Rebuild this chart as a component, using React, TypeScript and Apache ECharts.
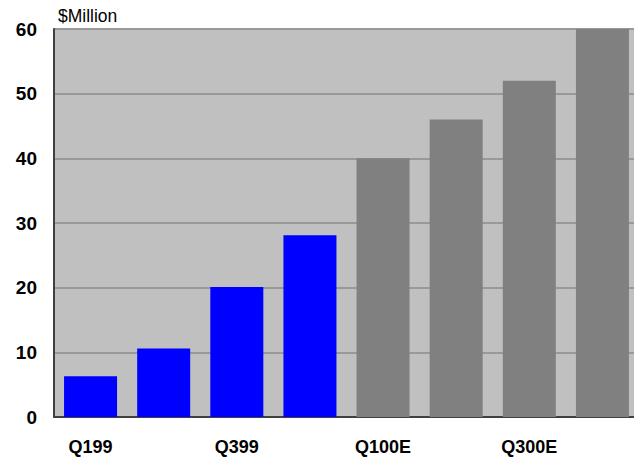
import React, { useEffect, useRef } from "react";
import * as echarts from "echarts";

const categories = ["Q199", "Q299", "Q399", "Q499", "Q100E", "Q200E", "Q300E", "Q400E"];
const actualValues = [6.3, 10.6, 20.1, 28.1];
const estimateValues = [40, 46, 52, 60];
const unitLabel = "$Million";

export default function App() {
  const ref = useRef<HTMLDivElement>(null);
  useEffect(() => {
    if (!ref.current) return;
    const chart = echarts.init(ref.current, null, { renderer: "svg" });
    const data = [
      ...actualValues.map((v) => ({ value: v, itemStyle: { color: "#0000ff" } })),
      ...estimateValues.map((v) => ({ value: v, itemStyle: { color: "#808080" } })),
    ];
    chart.setOption({
      animation: false,
      backgroundColor: "#ffffff",
      grid: {
        left: 54,
        width: 585,
        top: 29,
        bottom: 40,
        show: true,
        backgroundColor: "#c0c0c0",
        borderWidth: 0,
        outerBoundsMode: "none",
        containLabel: false,
      },
      xAxis: {
        type: "category",
        data: categories,
        axisLine: { show: true, lineStyle: { color: "#404040", width: 2 } },
        axisTick: { show: false },
        axisLabel: {
          interval: 1,
          margin: 21,
          fontFamily: "Liberation Sans, Arial, sans-serif",
          fontWeight: "bold",
          fontSize: 18,
          lineHeight: 18,
          color: "#000",
        },
      },
      yAxis: {
        type: "value",
        min: 0,
        max: 60,
        interval: 10,
        axisLine: { show: true, lineStyle: { color: "#404040", width: 2 } },
        axisTick: { show: false },
        splitLine: { show: true, lineStyle: { color: "#999999", width: 2 } },
        axisLabel: {
          margin: 17,
          fontFamily: "Liberation Sans, Arial, sans-serif",
          fontWeight: "bold",
          fontSize: 19,
          color: "#000",
        },
      },
      graphic: [
        {
          type: "text",
          left: 58,
          top: 7,
          style: {
            text: unitLabel,
            fontFamily: "Liberation Sans, Arial, sans-serif",
            fontSize: 17.5,
            fill: "#000",
          },
        },
      ],
      series: [
        {
          type: "bar",
          data,
          barCategoryGap: "27.5%",
        },
      ],
    });
    return () => chart.dispose();
  }, []);
  return <div ref={ref} style={{ width: 634, height: 457, position: "absolute", left: 0, top: 0 }} />;
}
